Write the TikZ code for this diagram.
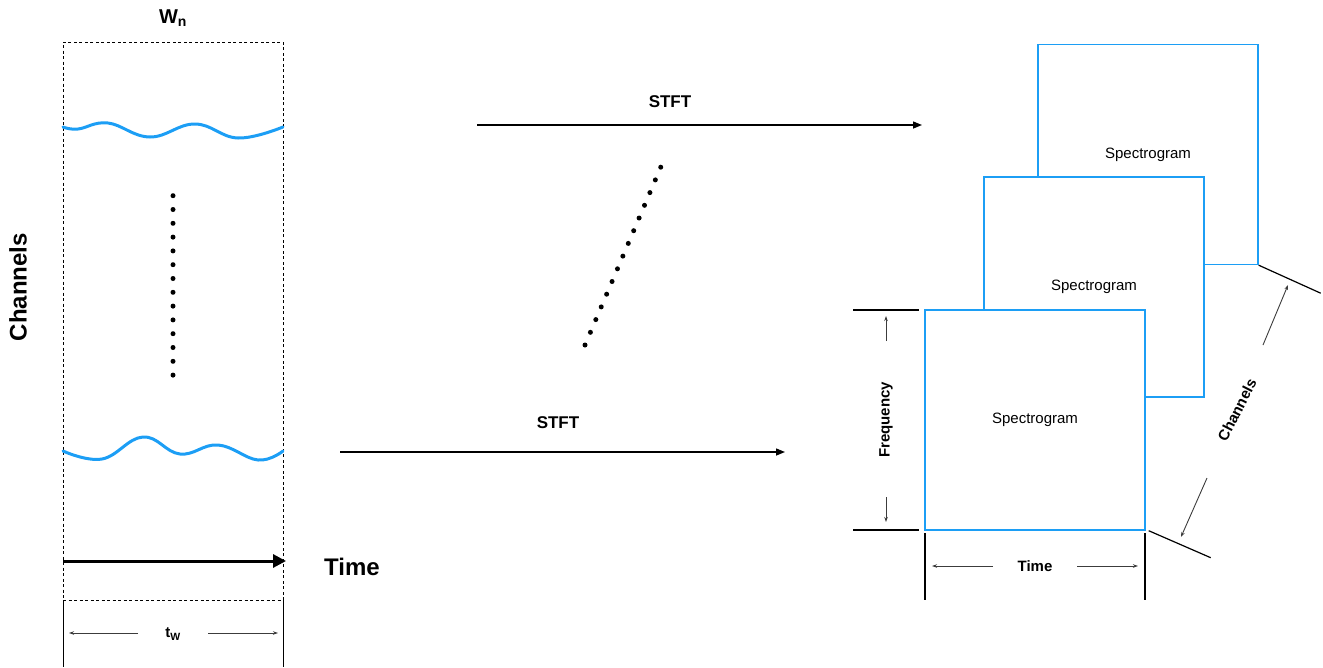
\documentclass[tikz,border=0pt]{standalone}
\usepackage{fontspec}
\setmainfont{Liberation Sans}
\usetikzlibrary{arrows.meta}
\definecolor{sigblue}{RGB}{28,158,245}
\definecolor{dimgray}{RGB}{60,60,60}
\begin{document}
\begin{tikzpicture}[x=1pt,y=-1pt,
  winbox/.style={draw, line width=1pt, dash pattern=on 3pt off 2.5pt, inner sep=0pt, minimum width=220pt, minimum height=558pt},
  specbox/.style={draw=sigblue, line width=1.4pt, fill=white, minimum width=220pt, minimum height=220pt, inner sep=0pt, font=\fontsize{15}{18}\selectfont},
  wave/.style={sigblue, line width=3pt, line cap=round},
  bigbold/.style={font=\fontsize{24}{28}\selectfont\bfseries},
  midbold/.style={font=\fontsize{17}{20}\selectfont\bfseries},
  wnbold/.style={font=\fontsize{20}{24}\selectfont\bfseries},
  smallbold/.style={font=\fontsize{15}{18}\selectfont\bfseries},
  dimline/.style={line width=1.2pt, black},
  dimarrow/.style={line width=0.9pt, dimgray, -{Stealth[length=5pt,width=3.5pt]}},
  flowarrow/.style={line width=1.4pt, -{Triangle[length=9pt,width=7pt]}},
  dotmark/.style={circle, fill=black, inner sep=0pt, minimum size=5pt}
]
\useasboundingbox (0,0) rectangle (1323,667);

% window box
\node[winbox] (win) at (173,321) {};
\node[wnbold] (wn) at (173,18) {W\textsubscript{n}};
\node[bigbold, rotate=90] (chan) at (18,287) {Channels};

% waves
\draw[wave] plot[smooth, tension=0.7] coordinates {(63,127) (78,129) (108,123) (150,137) (195,124) (238,138) (283,127)};
\draw[wave] plot[smooth, tension=0.7] coordinates {(63,451) (102,459) (143,437) (180,454) (218,445) (258,460) (283,451)};

% vertical dots
\foreach \i in {0,...,13} {
  \node[dotmark] (vd\i) at (173,{195.7+\i*13.8}) {};
}

% time arrow
\coordinate (ta) at (63,561);
\coordinate (tb) at (286,561);
\draw[line width=3pt, -{Triangle[length=13pt,width=13pt]}] (ta) -- (tb);
\node[bigbold] (timelbl) at (352,567) {Time};

% t_w dimension
\coordinate (wbl) at (63,600);
\coordinate (wbr) at (283,600);
\coordinate (wbl2) at (63,667);
\coordinate (wbr2) at (283,667);
\draw[line width=1pt] (wbl) -- (wbl2);
\draw[line width=1pt] (wbr) -- (wbr2);
\node[smallbold] (tw) at (173,634) {t\textsubscript{W}};
\coordinate (tw1) at (138,633);
\coordinate (tw2) at (69,633);
\coordinate (tw3) at (208,633);
\coordinate (tw4) at (278,633);
\draw[dimarrow] (tw1) -- (tw2);
\draw[dimarrow] (tw3) -- (tw4);

% STFT arrows
\node[midbold] (stft1) at (670,102) {STFT};
\coordinate (s1a) at (477,125);
\coordinate (s1b) at (922,125);
\draw[flowarrow] (s1a) -- (s1b);
\node[midbold] (stft2) at (558,423) {STFT};
\coordinate (s2a) at (340,452);
\coordinate (s2b) at (785,452);
\draw[flowarrow] (s2a) -- (s2b);

% diagonal dots
\foreach \i in {0,...,14} {
  \node[dotmark] (dd\i) at ({585+\i*5.41},{345-\i*12.7}) {};
}

% spectrograms
\node[specbox] (sp3) at (1148,154.5) {Spectrogram};
\node[specbox] (sp2) at (1094,287) {Spectrogram};
\node[specbox] (sp1) at (1035,420) {Spectrogram};

% frequency dimension
\coordinate (f1a) at (853,310);
\coordinate (f1b) at (919,310);
\coordinate (f2a) at (853,530);
\coordinate (f2b) at (919,530);
\draw[dimline] (f1a) -- (f1b);
\draw[dimline] (f2a) -- (f2b);
\node[smallbold, rotate=90] (freq) at (886,420) {Frequency};
\coordinate (fa1) at (886,341);
\coordinate (fa2) at (886,316);
\coordinate (fa3) at (886,497);
\coordinate (fa4) at (886,522);
\draw[dimarrow] (fa1) -- (fa2);
\draw[dimarrow] (fa3) -- (fa4);

% time dimension
\coordinate (t1a) at (925,533);
\coordinate (t1b) at (925,600);
\coordinate (t2a) at (1145,533);
\coordinate (t2b) at (1145,600);
\draw[dimline] (t1a) -- (t1b);
\draw[dimline] (t2a) -- (t2b);
\node[smallbold] (time2) at (1035,566) {Time};
\coordinate (ta1) at (993,566);
\coordinate (ta2) at (932,566);
\coordinate (ta3) at (1077,566);
\coordinate (ta4) at (1138,566);
\draw[dimarrow] (ta1) -- (ta2);
\draw[dimarrow] (ta3) -- (ta4);

% channels dimension
\draw[dimline] (sp3.south east) -- ++(62,28) coordinate (c1b);
\draw[dimline] (sp1.south east) ++(3,0) coordinate (c2a) -- ++(62,27) coordinate (c2b);
\node[smallbold, rotate=63] (chan2) at (1237,410) {Channels};
\coordinate (ca1) at (1263,345);
\coordinate (ca2) at (1288,285);
\coordinate (ca3) at (1207,478);
\coordinate (ca4) at (1181,537);
\draw[dimarrow] (ca1) -- (ca2);
\draw[dimarrow] (ca3) -- (ca4);
\end{tikzpicture}
\end{document}
